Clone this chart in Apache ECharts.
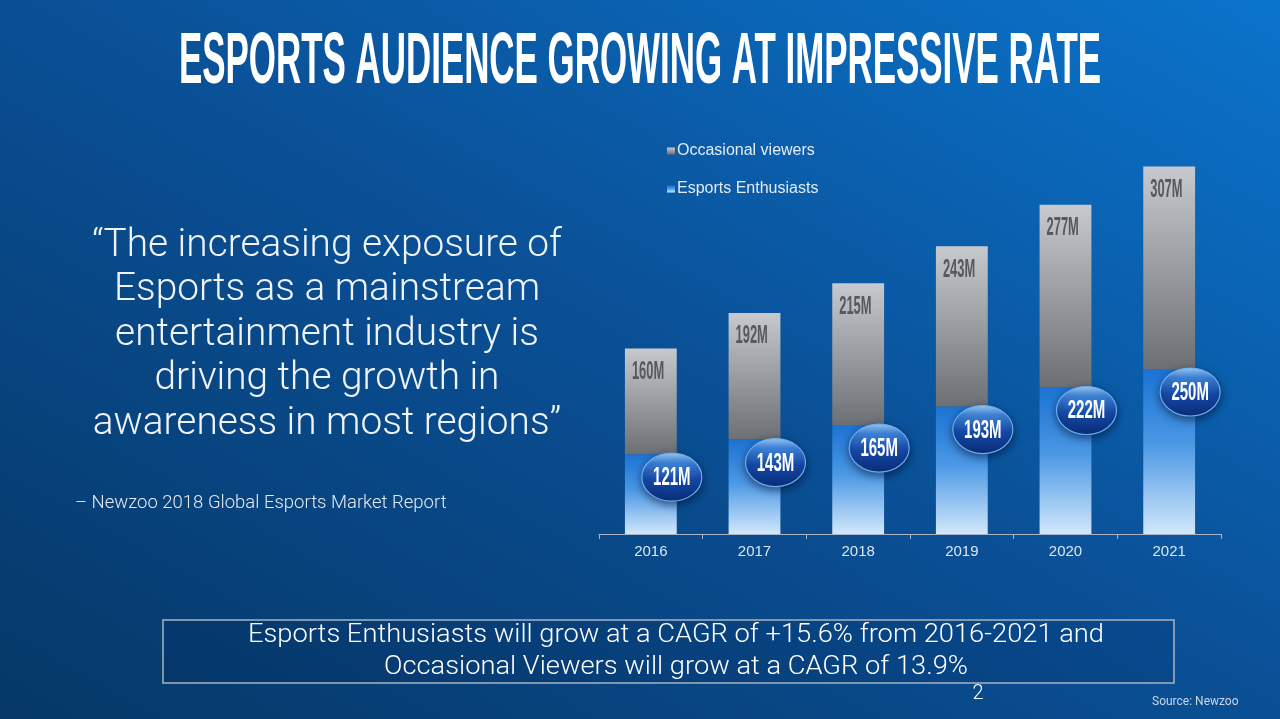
<!DOCTYPE html>
<html>
<head>
<meta charset="utf-8">
<script src="https://cdn.jsdelivr.net/npm/echarts@6/dist/echarts.min.js"></script>
<style>
html, body { margin: 0; padding: 0; overflow: hidden; }
#main {
  width: 1280px; height: 719px;
  background: linear-gradient(to top right, #053867 0%, #0a4f95 50%, #0a74cc 100%);
}
</style>
</head>
<body>
<div id="main"></div>
<script>
// data
const years = ["2016", "2017", "2018", "2019", "2020", "2021"];
const enthusiasts = [121, 143, 165, 193, 222, 250];
const occasional = [160, 192, 215, 243, 277, 307];
const quoteLines = [
  "\u201CThe increasing exposure of",
  "Esports as a mainstream",
  "entertainment industry is",
  "driving the growth in",
  "awareness in most regions\u201D"
];
const noteLines = [
  "Esports Enthusiasts will grow at a CAGR of +15.6% from 2016-2021 and",
  "Occasional Viewers will grow at a CAGR of 13.9%"
];

const condensed = '"Liberation Sans Narrow", "Liberation Sans", sans-serif';
const light = 'Roboto, "Liberation Sans", sans-serif';

function textWidth(str, font) {
  var ctx = document.createElement("canvas").getContext("2d");
  ctx.font = font;
  return ctx.measureText(str).width;
}

var titleText = "ESPORTS AUDIENCE GROWING AT IMPRESSIVE RATE";
var titleScale = 922 / textWidth(titleText, "bold 72px " + condensed);
var quoteSize = 100 * 470 / textWidth(quoteLines[0], "300 100px " + light);
var noteSize = 100 * 856 / textWidth(noteLines[0], "300 100px " + light);
var noteScale = 1;
if (noteSize > 25) { noteScale = noteSize / 25; noteSize = 25; }
var bubbleScale = 36 / textWidth("121M", "bold 24px " + condensed);
var grayScale = 31 / textWidth("160M", "bold 24px " + condensed);

var myChart = echarts.init(document.getElementById("main"), null, { renderer: "canvas" });

var graphics = [];
graphics.push({
  type: "text", x: 640, y: 63, scaleX: titleScale,
  style: { text: titleText, x: 0, y: 0, fill: "#ffffff", fontSize: 72, fontWeight: "bold",
    fontFamily: condensed, align: "center", verticalAlign: "middle" }
});
for (var i = 0; i < quoteLines.length; i++) {
  graphics.push({
    type: "text", x: 327, y: 246 + i * 44.5,
    style: { text: quoteLines[i], fill: "#f0f4fa", fontSize: quoteSize, fontWeight: 300,
      fontFamily: light, align: "center", verticalAlign: "middle" }
  });
}
graphics.push({
  type: "text", x: 75, y: 503,
  style: { text: "\u2013 Newzoo 2018 Global Esports Market Report", fill: "#e4eaf3", fontSize: 18.5,
    fontFamily: light, fontWeight: 300, align: "left", verticalAlign: "middle" }
});
graphics.push({
  type: "rect", shape: { x: 163, y: 620, width: 1011, height: 63 },
  style: { fill: "rgba(0,25,70,0.12)", stroke: "#aab3c0", lineWidth: 1.5 }
});
for (var j = 0; j < noteLines.length; j++) {
  graphics.push({
    type: "text", x: 676, y: 636 + j * 32, scaleX: noteScale,
    style: { text: noteLines[j], x: 0, y: 0, fill: "#ffffff", fontSize: noteSize, fontWeight: 300,
      fontFamily: light, align: "center", verticalAlign: "middle" }
  });
}
graphics.push({
  type: "text", x: 978, y: 694,
  style: { text: "2", fill: "#ffffff", fontSize: 20, fontFamily: light, fontWeight: 300,
    align: "center", verticalAlign: "middle" }
});
graphics.push({
  type: "text", x: 1152, y: 702,
  style: { text: "Source: Newzoo", fill: "#c9d6e8", fontSize: 12, fontFamily: light,
    align: "left", verticalAlign: "middle" }
});

function renderBubble(params, api) {
  var p = api.coord([api.value(0), api.value(1)]);
  var cx = p[0] + 21, cy = p[1] + 23;
  return {
    type: "group",
    children: [
      {
        type: "ellipse",
        shape: { cx: cx, cy: cy, rx: 30, ry: 24 },
        style: {
          fill: new echarts.graphic.LinearGradient(0, 0, 0, 1, [
            { offset: 0, color: "#a6d4fb" },
            { offset: 0.2, color: "#3f86dc" },
            { offset: 0.55, color: "#1548a6" },
            { offset: 1, color: "#0a2d78" }
          ]),
          stroke: "#6aaef0", lineWidth: 1.2,
          shadowBlur: 8, shadowColor: "rgba(0,10,40,0.55)", shadowOffsetY: 3
        }
      },
      {
        type: "text", x: cx, y: cy + 1, scaleX: bubbleScale,
        style: { text: api.value(1) + "M", x: 0, y: 0, fill: "#ffffff", fontSize: 25, fontWeight: "bold",
          fontFamily: condensed, align: "center", verticalAlign: "middle",
          textAlign: "center", textVerticalAlign: "middle" }
      }
    ]
  };
}

function renderGrayLabel(params, api) {
  var p = api.coord([api.value(0), api.value(1)]);
  var band = api.size([1, 0])[0];
  return {
    type: "text", x: p[0] - band * 0.25 + 7, y: p[1] + 11, scaleX: grayScale,
    style: { text: api.value(2) + "M", x: 0, y: 0, fill: "#565a60", fontSize: 25, fontWeight: "bold",
      fontFamily: condensed, align: "left", verticalAlign: "top",
      textAlign: "left", textVerticalAlign: "top" }
  };
}

var option = {
  animation: false,
  backgroundColor: "transparent",
  graphic: graphics,
  legend: {
    data: ["Occasional viewers", "Esports Enthusiasts"],
    orient: "vertical",
    left: 662, top: 138,
    itemWidth: 8, itemHeight: 7, itemGap: 22,
    icon: "rect",
    textStyle: { color: "#e3ebf5", fontSize: 16, fontFamily: '"Liberation Sans", sans-serif', padding: [0, 0, 0, -3] }
  },
  grid: { left: 599, right: 59, top: 138, bottom: 185 },
  xAxis: {
    type: "category",
    data: years,
    axisLine: { lineStyle: { color: "#a9b5c6", width: 1.2 } },
    axisTick: { show: true, length: 5, lineStyle: { color: "#a9b5c6" } },
    axisLabel: { color: "#dce6f2", fontSize: 15, margin: 10, fontFamily: '"Liberation Sans", sans-serif' }
  },
  yAxis: { type: "value", min: 0, max: 600, show: false, splitLine: { show: false } },
  series: [
    {
      name: "Esports Enthusiasts", type: "bar", stack: "total", barWidth: "50%",
      data: enthusiasts,
      itemStyle: {
        color: new echarts.graphic.LinearGradient(0, 0, 0, 1, [
          { offset: 0, color: "#1b73d3" },
          { offset: 0.45, color: "#4a97e4" },
          { offset: 1, color: "#d2e8fb" }
        ])
      }
    },
    {
      name: "Occasional viewers", type: "bar", stack: "total", barWidth: "50%",
      data: occasional,
      itemStyle: {
        color: new echarts.graphic.LinearGradient(0, 0, 0, 1, [
          { offset: 0, color: "#c6c9cd" },
          { offset: 1, color: "#6c7075" }
        ])
      }
    },
    {
      name: "gray labels", type: "custom", z: 5,
      renderItem: renderGrayLabel,
      data: years.map(function (y, k) { return [k, enthusiasts[k] + occasional[k], occasional[k]]; })
    },
    {
      name: "bubbles", type: "custom", z: 6,
      renderItem: renderBubble,
      data: years.map(function (y, k) { return [k, enthusiasts[k]]; })
    }
  ]
};

myChart.setOption(option);
</script>
</body>
</html>
